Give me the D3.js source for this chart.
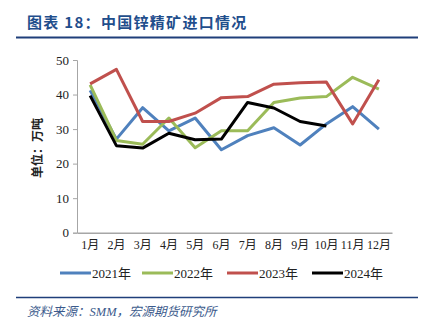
<!DOCTYPE html>
<html><head><meta charset="utf-8">
<script src="https://cdn.jsdelivr.net/npm/d3@7/dist/d3.min.js"></script>
<style>body{margin:0;background:#fff}svg{display:block}</style>
</head><body>
<svg id="c" width="423" height="329"></svg>
<script>
const months = ["1月","2月","3月","4月","5月","6月","7月","8月","9月","10月","11月","12月"];
const yTicks = [0,10,20,30,40,50];
const seriesNames = ["2021年","2022年","2023年","2024年"];
const seriesColors = ["#4F81BD","#9BBB59","#C0504D","#000000"];
const v2021 = [41.2,27.1,36.2,29.5,33.2,24.0,28.1,30.4,25.4,31.5,36.5,30.0];
const v2022 = [42.8,26.7,25.6,33.2,24.6,29.5,29.5,37.7,39.0,39.4,45.0,41.6];
const v2023 = [43.1,47.3,32.2,32.2,34.6,39.1,39.4,43.0,43.4,43.6,31.5,44.3];
const v2024 = [39.7,25.2,24.5,28.8,26.9,27.1,37.7,36.1,32.2,30.9];
const seriesVals = [v2021,v2022,v2023,v2024];

const svg = d3.select("#c");
const L=77,R=392,T=60,B=232.7;
const x = d3.scaleBand().domain(months).range([L,R]);
const y = d3.scaleLinear().domain([0,50]).range([B,T]);

// title
svg.append("text").attr("x",27).attr("y",28).attr("fill","#1F4E8C")
  .attr("font-family","Noto Sans CJK SC").attr("font-weight","bold").attr("font-size",15)
  .attr("letter-spacing",1.3).attr("xml:space","preserve")
  .text("图表 18：中国锌精矿进口情况");
svg.append("line").attr("x1",16).attr("x2",418).attr("y1",37.5).attr("y2",37.5)
  .attr("stroke","#1F3F7A").attr("stroke-width",2);

// axes
const ya = svg.append("g").attr("transform",`translate(${L},0)`)
  .call(d3.axisLeft(y).tickValues(yTicks).tickSize(4).tickPadding(4));
ya.select(".domain").attr("stroke","#a6a6a6").attr("stroke-width",1);
ya.selectAll(".tick line").attr("stroke","#a6a6a6");
ya.selectAll("text").attr("font-family","Liberation Serif").attr("font-size",13).attr("fill","#222");

const xa = svg.append("g").attr("transform",`translate(0,${B})`)
  .call(d3.axisBottom(x).tickSize(0).tickPadding(8));
xa.select(".domain").attr("stroke","#a6a6a6").attr("stroke-width",1.5);
xa.selectAll("text").attr("font-family","Liberation Serif, Noto Sans CJK SC").attr("font-size",12).attr("fill","#222");

// y label
svg.append("text").attr("transform","translate(42,148) rotate(-90)").attr("text-anchor","middle")
  .attr("font-family","Noto Sans CJK SC").attr("font-weight","bold").attr("font-size",12).attr("fill","#222")
  .text("单位：万吨");

// lines
const line = d3.line().x((d,i)=>x(months[i])+x.bandwidth()/2).y(d=>y(d));
seriesVals.forEach((vals,k)=>{
  svg.append("path").datum(vals).attr("d",line).attr("fill","none")
    .attr("stroke",seriesColors[k]).attr("stroke-width",3).attr("stroke-linejoin","round");
});

// legend
const lx=[60,142,227,312];
seriesNames.forEach((n,k)=>{
  const g=svg.append("g");
  g.append("line").attr("x1",lx[k]).attr("x2",lx[k]+31).attr("y1",273).attr("y2",273)
    .attr("stroke",seriesColors[k]).attr("stroke-width",3);
  g.append("text").attr("x",lx[k]+32).attr("y",277.5).attr("font-family","Liberation Serif, Noto Sans CJK SC")
    .attr("font-size",13).attr("fill","#222").text(n);
});

// bottom rule and source
svg.append("line").attr("x1",16).attr("x2",418).attr("y1",297.5).attr("y2",297.5)
  .attr("stroke","#1F3F7A").attr("stroke-width",1.5);
svg.append("text").attr("x",27).attr("y",316).attr("fill","#3B5A8C")
  .attr("font-family","Liberation Serif, Noto Sans CJK SC").attr("font-style","italic").attr("font-size",12.5)
  .text("资料来源：SMM，宏源期货研究所");
</script>
</body></html>
